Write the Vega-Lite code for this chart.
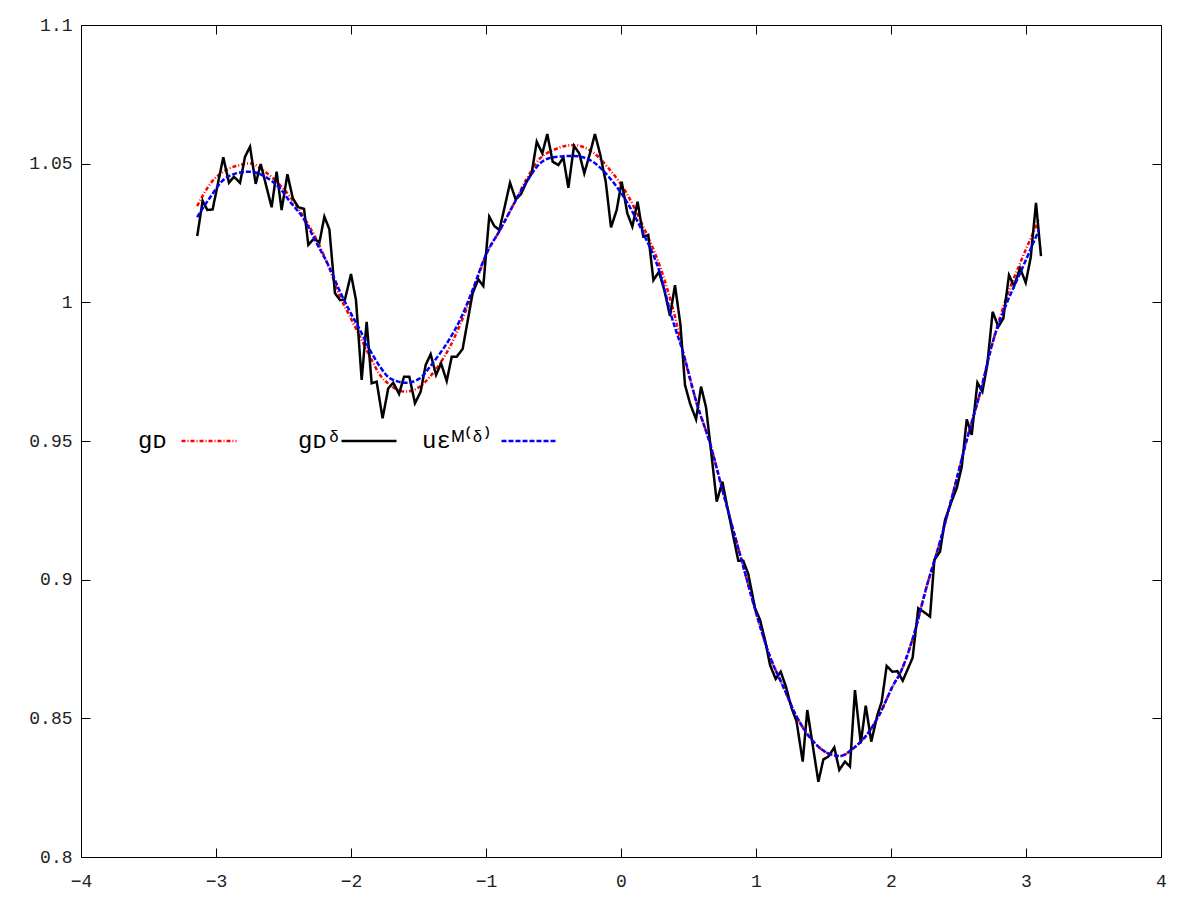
{
  "$schema": "https://vega.github.io/schema/vega-lite/v6.json",
  "width": 1080,
  "height": 832,
  "autosize": {"type": "none"},
  "padding": {"left": 81, "top": 25, "right": 39, "bottom": 43},
  "background": "white",
  "config": {
    "view": {"stroke": null},
    "axis": {
      "labelFont": "Liberation Mono",
      "labelFontSize": 18,
      "labelColor": "#222",
      "domainColor": "#000",
      "domainWidth": 1,
      "tickColor": "#000",
      "tickWidth": 1,
      "tickSize": -9,
      "grid": false,
      "title": null,
      "labelOverlap": false,
      "labelFlush": false,
      "labelBound": false
    },
    "legend": {
      "orient": "none",
      "legendX": 99,
      "legendY": 387,
      "direction": "horizontal",
      "padding": 0,
      "offset": 0,
      "symbolType": "stroke",
      "symbolSize": 3025,
      "symbolStrokeWidth": 2.5,
      "labelFont": "Liberation Mono",
      "labelFontSize": 24,
      "labelColor": "#000",
      "labelAlign": "left",
      "labelOffset": -136,
      "columnPadding": 20,
      "labelLimit": 300
    }
  },
  "data": {
    "values": [
      {"s": "⠀⠀gᴅ", "x": -3.14, "y": 1.0347},
      {"s": "⠀⠀gᴅ", "x": -3.04, "y": 1.0429},
      {"s": "⠀⠀gᴅ", "x": -2.946, "y": 1.0471},
      {"s": "⠀⠀gᴅ", "x": -2.822, "y": 1.0495},
      {"s": "⠀⠀gᴅ", "x": -2.748, "y": 1.0501},
      {"s": "⠀⠀gᴅ", "x": -2.637, "y": 1.0471},
      {"s": "⠀⠀gᴅ", "x": -2.526, "y": 1.0423},
      {"s": "⠀⠀gᴅ", "x": -2.452, "y": 1.0381},
      {"s": "⠀⠀gᴅ", "x": -2.353, "y": 1.0309},
      {"s": "⠀⠀gᴅ", "x": -2.254, "y": 1.0225},
      {"s": "⠀⠀gᴅ", "x": -2.156, "y": 1.0117},
      {"s": "⠀⠀gᴅ", "x": -2.081, "y": 1.002},
      {"s": "⠀⠀gᴅ", "x": -2.007, "y": 0.9948},
      {"s": "⠀⠀gᴅ", "x": -1.933, "y": 0.9876},
      {"s": "⠀⠀gᴅ", "x": -1.859, "y": 0.9804},
      {"s": "⠀⠀gᴅ", "x": -1.785, "y": 0.9738},
      {"s": "⠀⠀gᴅ", "x": -1.711, "y": 0.9702},
      {"s": "⠀⠀gᴅ", "x": -1.6, "y": 0.9678},
      {"s": "⠀⠀gᴅ", "x": -1.489, "y": 0.9696},
      {"s": "⠀⠀gᴅ", "x": -1.415, "y": 0.9732},
      {"s": "⠀⠀gᴅ", "x": -1.341, "y": 0.978},
      {"s": "⠀⠀gᴅ", "x": -1.267, "y": 0.984},
      {"s": "⠀⠀gᴅ", "x": -1.193, "y": 0.9918},
      {"s": "⠀⠀gᴅ", "x": -1.119, "y": 1.0008},
      {"s": "⠀⠀gᴅ", "x": -0.995, "y": 1.0177},
      {"s": "⠀⠀gᴅ", "x": -0.896, "y": 1.0261},
      {"s": "⠀⠀gᴅ", "x": -0.798, "y": 1.0351},
      {"s": "⠀⠀gᴅ", "x": -0.699, "y": 1.0445},
      {"s": "⠀⠀gᴅ", "x": -0.6, "y": 1.0519},
      {"s": "⠀⠀gᴅ", "x": -0.501, "y": 1.0549},
      {"s": "⠀⠀gᴅ", "x": -0.353, "y": 1.0567},
      {"s": "⠀⠀gᴅ", "x": -0.205, "y": 1.054},
      {"s": "⠀⠀gᴅ", "x": -0.081, "y": 1.0477},
      {"s": "⠀⠀gᴅ", "x": 0.042, "y": 1.0393},
      {"s": "⠀⠀gᴅ", "x": 0.165, "y": 1.0273},
      {"s": "⠀⠀gᴅ", "x": 0.289, "y": 1.0129},
      {"s": "⠀⠀gᴅ", "x": 0.4, "y": 0.9948},
      {"s": "⠀⠀gᴅ", "x": 0.462, "y": 0.9816},
      {"s": "⠀⠀gᴅ", "x": 0.561, "y": 0.9636},
      {"s": "⠀⠀gᴅ", "x": 0.659, "y": 0.9492},
      {"s": "⠀⠀gᴅ", "x": 0.758, "y": 0.9311},
      {"s": "⠀⠀gᴅ", "x": 0.906, "y": 0.9047},
      {"s": "⠀⠀gᴅ", "x": 1.005, "y": 0.8873},
      {"s": "⠀⠀gᴅ", "x": 1.104, "y": 0.8722},
      {"s": "⠀⠀gᴅ", "x": 1.202, "y": 0.8614},
      {"s": "⠀⠀gᴅ", "x": 1.301, "y": 0.8506},
      {"s": "⠀⠀gᴅ", "x": 1.425, "y": 0.8416},
      {"s": "⠀⠀gᴅ", "x": 1.524, "y": 0.8376},
      {"s": "⠀⠀gᴅ", "x": 1.622, "y": 0.8364},
      {"s": "⠀⠀gᴅ", "x": 1.721, "y": 0.8392},
      {"s": "⠀⠀gᴅ", "x": 1.82, "y": 0.844},
      {"s": "⠀⠀gᴅ", "x": 1.919, "y": 0.8518},
      {"s": "⠀⠀gᴅ", "x": 2.017, "y": 0.862},
      {"s": "⠀⠀gᴅ", "x": 2.067, "y": 0.8662},
      {"s": "⠀⠀gᴅ", "x": 2.165, "y": 0.8794},
      {"s": "⠀⠀gᴅ", "x": 2.264, "y": 0.8975},
      {"s": "⠀⠀gᴅ", "x": 2.363, "y": 0.9137},
      {"s": "⠀⠀gᴅ", "x": 2.462, "y": 0.9317},
      {"s": "⠀⠀gᴅ", "x": 2.561, "y": 0.9504},
      {"s": "⠀⠀gᴅ", "x": 2.659, "y": 0.9672},
      {"s": "⠀⠀gᴅ", "x": 2.758, "y": 0.9864},
      {"s": "⠀⠀gᴅ", "x": 2.857, "y": 1.002},
      {"s": "⠀⠀gᴅ", "x": 2.956, "y": 1.0141},
      {"s": "⠀⠀gᴅ", "x": 3.096, "y": 1.0297},

      {"s": "⠀⠀gᴅᵟ", "x": -3.139, "y": 1.0239},
      {"s": "⠀⠀gᴅᵟ", "x": -3.099, "y": 1.0366},
      {"s": "⠀⠀gᴅᵟ", "x": -3.064, "y": 1.0333},
      {"s": "⠀⠀gᴅᵟ", "x": -3.025, "y": 1.0335},
      {"s": "⠀⠀gᴅᵟ", "x": -2.946, "y": 1.0523},
      {"s": "⠀⠀gᴅᵟ", "x": -2.904, "y": 1.0431},
      {"s": "⠀⠀gᴅᵟ", "x": -2.867, "y": 1.0453},
      {"s": "⠀⠀gᴅᵟ", "x": -2.822, "y": 1.0431},
      {"s": "⠀⠀gᴅᵟ", "x": -2.785, "y": 1.0525},
      {"s": "⠀⠀gᴅᵟ", "x": -2.748, "y": 1.0561},
      {"s": "⠀⠀gᴅᵟ", "x": -2.706, "y": 1.0427},
      {"s": "⠀⠀gᴅᵟ", "x": -2.669, "y": 1.0499},
      {"s": "⠀⠀gᴅᵟ", "x": -2.588, "y": 1.0343},
      {"s": "⠀⠀gᴅᵟ", "x": -2.551, "y": 1.0471},
      {"s": "⠀⠀gᴅᵟ", "x": -2.514, "y": 1.0333},
      {"s": "⠀⠀gᴅᵟ", "x": -2.471, "y": 1.0462},
      {"s": "⠀⠀gᴅᵟ", "x": -2.431, "y": 1.0375},
      {"s": "⠀⠀gᴅᵟ", "x": -2.39, "y": 1.0343},
      {"s": "⠀⠀gᴅᵟ", "x": -2.348, "y": 1.0337},
      {"s": "⠀⠀gᴅᵟ", "x": -2.316, "y": 1.0207},
      {"s": "⠀⠀gᴅᵟ", "x": -2.274, "y": 1.023},
      {"s": "⠀⠀gᴅᵟ", "x": -2.234, "y": 1.0216},
      {"s": "⠀⠀gᴅᵟ", "x": -2.197, "y": 1.0309},
      {"s": "⠀⠀gᴅᵟ", "x": -2.16, "y": 1.0263},
      {"s": "⠀⠀gᴅᵟ", "x": -2.119, "y": 1.0033},
      {"s": "⠀⠀gᴅᵟ", "x": -2.081, "y": 1.0008},
      {"s": "⠀⠀gᴅᵟ", "x": -2.045, "y": 1.001},
      {"s": "⠀⠀gᴅᵟ", "x": -2.0, "y": 1.0102},
      {"s": "⠀⠀gᴅᵟ", "x": -1.963, "y": 1.0008},
      {"s": "⠀⠀gᴅᵟ", "x": -1.921, "y": 0.972},
      {"s": "⠀⠀gᴅᵟ", "x": -1.884, "y": 0.993},
      {"s": "⠀⠀gᴅᵟ", "x": -1.847, "y": 0.9708},
      {"s": "⠀⠀gᴅᵟ", "x": -1.81, "y": 0.9714},
      {"s": "⠀⠀gᴅᵟ", "x": -1.766, "y": 0.9582},
      {"s": "⠀⠀gᴅᵟ", "x": -1.724, "y": 0.969},
      {"s": "⠀⠀gᴅᵟ", "x": -1.687, "y": 0.971},
      {"s": "⠀⠀gᴅᵟ", "x": -1.644, "y": 0.967},
      {"s": "⠀⠀gᴅᵟ", "x": -1.607, "y": 0.9732},
      {"s": "⠀⠀gᴅᵟ", "x": -1.568, "y": 0.9732},
      {"s": "⠀⠀gᴅᵟ", "x": -1.526, "y": 0.9636},
      {"s": "⠀⠀gᴅᵟ", "x": -1.484, "y": 0.9678},
      {"s": "⠀⠀gᴅᵟ", "x": -1.447, "y": 0.9774},
      {"s": "⠀⠀gᴅᵟ", "x": -1.41, "y": 0.9813},
      {"s": "⠀⠀gᴅᵟ", "x": -1.37, "y": 0.9738},
      {"s": "⠀⠀gᴅᵟ", "x": -1.333, "y": 0.978},
      {"s": "⠀⠀gᴅᵟ", "x": -1.291, "y": 0.9716},
      {"s": "⠀⠀gᴅᵟ", "x": -1.254, "y": 0.9804},
      {"s": "⠀⠀gᴅᵟ", "x": -1.217, "y": 0.9804},
      {"s": "⠀⠀gᴅᵟ", "x": -1.173, "y": 0.9832},
      {"s": "⠀⠀gᴅᵟ", "x": -1.099, "y": 1.0033},
      {"s": "⠀⠀gᴅᵟ", "x": -1.057, "y": 1.0083},
      {"s": "⠀⠀gᴅᵟ", "x": -1.02, "y": 1.0059},
      {"s": "⠀⠀gᴅᵟ", "x": -0.976, "y": 1.0309},
      {"s": "⠀⠀gᴅᵟ", "x": -0.938, "y": 1.0275},
      {"s": "⠀⠀gᴅᵟ", "x": -0.901, "y": 1.0261},
      {"s": "⠀⠀gᴅᵟ", "x": -0.864, "y": 1.0339},
      {"s": "⠀⠀gᴅᵟ", "x": -0.822, "y": 1.0431},
      {"s": "⠀⠀gᴅᵟ", "x": -0.78, "y": 1.0371},
      {"s": "⠀⠀gᴅᵟ", "x": -0.741, "y": 1.039},
      {"s": "⠀⠀gᴅᵟ", "x": -0.699, "y": 1.0435},
      {"s": "⠀⠀gᴅᵟ", "x": -0.662, "y": 1.0465},
      {"s": "⠀⠀gᴅᵟ", "x": -0.624, "y": 1.0579},
      {"s": "⠀⠀gᴅᵟ", "x": -0.583, "y": 1.0537},
      {"s": "⠀⠀gᴅᵟ", "x": -0.546, "y": 1.0607},
      {"s": "⠀⠀gᴅᵟ", "x": -0.506, "y": 1.0507},
      {"s": "⠀⠀gᴅᵟ", "x": -0.464, "y": 1.0495},
      {"s": "⠀⠀gᴅᵟ", "x": -0.427, "y": 1.0522},
      {"s": "⠀⠀gᴅᵟ", "x": -0.39, "y": 1.0413},
      {"s": "⠀⠀gᴅᵟ", "x": -0.348, "y": 1.0564},
      {"s": "⠀⠀gᴅᵟ", "x": -0.309, "y": 1.0537},
      {"s": "⠀⠀gᴅᵟ", "x": -0.272, "y": 1.0465},
      {"s": "⠀⠀gᴅᵟ", "x": -0.23, "y": 1.0537},
      {"s": "⠀⠀gᴅᵟ", "x": -0.193, "y": 1.0607},
      {"s": "⠀⠀gᴅᵟ", "x": -0.156, "y": 1.0537},
      {"s": "⠀⠀gᴅᵟ", "x": -0.113, "y": 1.0435},
      {"s": "⠀⠀gᴅᵟ", "x": -0.074, "y": 1.027},
      {"s": "⠀⠀gᴅᵟ", "x": -0.032, "y": 1.0333},
      {"s": "⠀⠀gᴅᵟ", "x": 0.005, "y": 1.0435},
      {"s": "⠀⠀gᴅᵟ", "x": 0.047, "y": 1.0321},
      {"s": "⠀⠀gᴅᵟ", "x": 0.084, "y": 1.0273},
      {"s": "⠀⠀gᴅᵟ", "x": 0.123, "y": 1.0363},
      {"s": "⠀⠀gᴅᵟ", "x": 0.165, "y": 1.0237},
      {"s": "⠀⠀gᴅᵟ", "x": 0.202, "y": 1.0243},
      {"s": "⠀⠀gᴅᵟ", "x": 0.24, "y": 1.008},
      {"s": "⠀⠀gᴅᵟ", "x": 0.281, "y": 1.011},
      {"s": "⠀⠀gᴅᵟ", "x": 0.321, "y": 1.0044},
      {"s": "⠀⠀gᴅᵟ", "x": 0.363, "y": 0.9951},
      {"s": "⠀⠀gᴅᵟ", "x": 0.4, "y": 1.0062},
      {"s": "⠀⠀gᴅᵟ", "x": 0.44, "y": 0.992},
      {"s": "⠀⠀gᴅᵟ", "x": 0.474, "y": 0.9702},
      {"s": "⠀⠀gᴅᵟ", "x": 0.511, "y": 0.9636},
      {"s": "⠀⠀gᴅᵟ", "x": 0.556, "y": 0.9578},
      {"s": "⠀⠀gᴅᵟ", "x": 0.593, "y": 0.9696},
      {"s": "⠀⠀gᴅᵟ", "x": 0.63, "y": 0.9621},
      {"s": "⠀⠀gᴅᵟ", "x": 0.672, "y": 0.9443},
      {"s": "⠀⠀gᴅᵟ", "x": 0.709, "y": 0.9281},
      {"s": "⠀⠀gᴅᵟ", "x": 0.751, "y": 0.9353},
      {"s": "⠀⠀gᴅᵟ", "x": 0.787, "y": 0.9263},
      {"s": "⠀⠀gᴅᵟ", "x": 0.869, "y": 0.9068},
      {"s": "⠀⠀gᴅᵟ", "x": 0.906, "y": 0.9068},
      {"s": "⠀⠀gᴅᵟ", "x": 0.943, "y": 0.902},
      {"s": "⠀⠀gᴅᵟ", "x": 0.993, "y": 0.8897},
      {"s": "⠀⠀gᴅᵟ", "x": 1.03, "y": 0.8855},
      {"s": "⠀⠀gᴅᵟ", "x": 1.067, "y": 0.8782},
      {"s": "⠀⠀gᴅᵟ", "x": 1.104, "y": 0.8692},
      {"s": "⠀⠀gᴅᵟ", "x": 1.146, "y": 0.8642},
      {"s": "⠀⠀gᴅᵟ", "x": 1.183, "y": 0.8668},
      {"s": "⠀⠀gᴅᵟ", "x": 1.222, "y": 0.8614},
      {"s": "⠀⠀gᴅᵟ", "x": 1.264, "y": 0.8536},
      {"s": "⠀⠀gᴅᵟ", "x": 1.3, "y": 0.849},
      {"s": "⠀⠀gᴅᵟ", "x": 1.346, "y": 0.8344},
      {"s": "⠀⠀gᴅᵟ", "x": 1.38, "y": 0.853},
      {"s": "⠀⠀gᴅᵟ", "x": 1.462, "y": 0.8271},
      {"s": "⠀⠀gᴅᵟ", "x": 1.499, "y": 0.8352},
      {"s": "⠀⠀gᴅᵟ", "x": 1.536, "y": 0.8362},
      {"s": "⠀⠀gᴅᵟ", "x": 1.58, "y": 0.8395},
      {"s": "⠀⠀gᴅᵟ", "x": 1.617, "y": 0.8314},
      {"s": "⠀⠀gᴅᵟ", "x": 1.659, "y": 0.8344},
      {"s": "⠀⠀gᴅᵟ", "x": 1.696, "y": 0.8326},
      {"s": "⠀⠀gᴅᵟ", "x": 1.733, "y": 0.8602},
      {"s": "⠀⠀gᴅᵟ", "x": 1.776, "y": 0.841},
      {"s": "⠀⠀gᴅᵟ", "x": 1.813, "y": 0.8546},
      {"s": "⠀⠀gᴅᵟ", "x": 1.854, "y": 0.8416},
      {"s": "⠀⠀gᴅᵟ", "x": 1.899, "y": 0.8512},
      {"s": "⠀⠀gᴅᵟ", "x": 1.931, "y": 0.856},
      {"s": "⠀⠀gᴅᵟ", "x": 1.968, "y": 0.8689},
      {"s": "⠀⠀gᴅᵟ", "x": 2.01, "y": 0.8668},
      {"s": "⠀⠀gᴅᵟ", "x": 2.047, "y": 0.867},
      {"s": "⠀⠀gᴅᵟ", "x": 2.087, "y": 0.8636},
      {"s": "⠀⠀gᴅᵟ", "x": 2.16, "y": 0.8718},
      {"s": "⠀⠀gᴅᵟ", "x": 2.202, "y": 0.8897},
      {"s": "⠀⠀gᴅᵟ", "x": 2.239, "y": 0.8885},
      {"s": "⠀⠀gᴅᵟ", "x": 2.289, "y": 0.8867},
      {"s": "⠀⠀gᴅᵟ", "x": 2.321, "y": 0.9071},
      {"s": "⠀⠀gᴅᵟ", "x": 2.363, "y": 0.9101},
      {"s": "⠀⠀gᴅᵟ", "x": 2.4, "y": 0.9215},
      {"s": "⠀⠀gᴅᵟ", "x": 2.45, "y": 0.9284},
      {"s": "⠀⠀gᴅᵟ", "x": 2.487, "y": 0.933},
      {"s": "⠀⠀gᴅᵟ", "x": 2.524, "y": 0.9407},
      {"s": "⠀⠀gᴅᵟ", "x": 2.561, "y": 0.9578},
      {"s": "⠀⠀gᴅᵟ", "x": 2.598, "y": 0.9522},
      {"s": "⠀⠀gᴅᵟ", "x": 2.64, "y": 0.971},
      {"s": "⠀⠀gᴅᵟ", "x": 2.677, "y": 0.9678},
      {"s": "⠀⠀gᴅᵟ", "x": 2.713, "y": 0.9774},
      {"s": "⠀⠀gᴅᵟ", "x": 2.753, "y": 0.9966},
      {"s": "⠀⠀gᴅᵟ", "x": 2.795, "y": 0.9912},
      {"s": "⠀⠀gᴅᵟ", "x": 2.832, "y": 0.9942},
      {"s": "⠀⠀gᴅᵟ", "x": 2.874, "y": 1.0098},
      {"s": "⠀⠀gᴅᵟ", "x": 2.911, "y": 1.0059},
      {"s": "⠀⠀gᴅᵟ", "x": 2.956, "y": 1.0123},
      {"s": "⠀⠀gᴅᵟ", "x": 2.998, "y": 1.0071},
      {"s": "⠀⠀gᴅᵟ", "x": 3.035, "y": 1.0162},
      {"s": "⠀⠀gᴅᵟ", "x": 3.074, "y": 1.0359},
      {"s": "⠀⠀gᴅᵟ", "x": 3.111, "y": 1.0167},

      {"s": "uεᴹ⁽ᵟ⁾", "x": -3.14, "y": 1.0307},
      {"s": "uεᴹ⁽ᵟ⁾", "x": -3.04, "y": 1.0381},
      {"s": "uεᴹ⁽ᵟ⁾", "x": -2.946, "y": 1.0441},
      {"s": "uεᴹ⁽ᵟ⁾", "x": -2.822, "y": 1.0468},
      {"s": "uεᴹ⁽ᵟ⁾", "x": -2.748, "y": 1.0471},
      {"s": "uεᴹ⁽ᵟ⁾", "x": -2.637, "y": 1.0453},
      {"s": "uεᴹ⁽ᵟ⁾", "x": -2.526, "y": 1.0411},
      {"s": "uεᴹ⁽ᵟ⁾", "x": -2.452, "y": 1.0363},
      {"s": "uεᴹ⁽ᵟ⁾", "x": -2.353, "y": 1.0303},
      {"s": "uεᴹ⁽ᵟ⁾", "x": -2.254, "y": 1.0213},
      {"s": "uεᴹ⁽ᵟ⁾", "x": -2.156, "y": 1.0122},
      {"s": "uεᴹ⁽ᵟ⁾", "x": -2.081, "y": 1.0038},
      {"s": "uεᴹ⁽ᵟ⁾", "x": -2.007, "y": 0.9966},
      {"s": "uεᴹ⁽ᵟ⁾", "x": -1.933, "y": 0.99},
      {"s": "uεᴹ⁽ᵟ⁾", "x": -1.859, "y": 0.9828},
      {"s": "uεᴹ⁽ᵟ⁾", "x": -1.785, "y": 0.9768},
      {"s": "uεᴹ⁽ᵟ⁾", "x": -1.711, "y": 0.9726},
      {"s": "uεᴹ⁽ᵟ⁾", "x": -1.59, "y": 0.971},
      {"s": "uεᴹ⁽ᵟ⁾", "x": -1.489, "y": 0.9726},
      {"s": "uεᴹ⁽ᵟ⁾", "x": -1.415, "y": 0.9768},
      {"s": "uεᴹ⁽ᵟ⁾", "x": -1.341, "y": 0.9816},
      {"s": "uεᴹ⁽ᵟ⁾", "x": -1.267, "y": 0.987},
      {"s": "uεᴹ⁽ᵟ⁾", "x": -1.193, "y": 0.9936},
      {"s": "uεᴹ⁽ᵟ⁾", "x": -1.119, "y": 1.002},
      {"s": "uεᴹ⁽ᵟ⁾", "x": -0.995, "y": 1.0177},
      {"s": "uεᴹ⁽ᵟ⁾", "x": -0.896, "y": 1.0261},
      {"s": "uεᴹ⁽ᵟ⁾", "x": -0.798, "y": 1.0351},
      {"s": "uεᴹ⁽ᵟ⁾", "x": -0.699, "y": 1.0435},
      {"s": "uεᴹ⁽ᵟ⁾", "x": -0.6, "y": 1.0501},
      {"s": "uεᴹ⁽ᵟ⁾", "x": -0.501, "y": 1.0523},
      {"s": "uεᴹ⁽ᵟ⁾", "x": -0.353, "y": 1.0528},
      {"s": "uεᴹ⁽ᵟ⁾", "x": -0.23, "y": 1.0513},
      {"s": "uεᴹ⁽ᵟ⁾", "x": -0.081, "y": 1.0447},
      {"s": "uεᴹ⁽ᵟ⁾", "x": 0.042, "y": 1.0363},
      {"s": "uεᴹ⁽ᵟ⁾", "x": 0.165, "y": 1.0249},
      {"s": "uεᴹ⁽ᵟ⁾", "x": 0.289, "y": 1.0105},
      {"s": "uεᴹ⁽ᵟ⁾", "x": 0.375, "y": 0.9948},
      {"s": "uεᴹ⁽ᵟ⁾", "x": 0.462, "y": 0.9816},
      {"s": "uεᴹ⁽ᵟ⁾", "x": 0.561, "y": 0.9636},
      {"s": "uεᴹ⁽ᵟ⁾", "x": 0.659, "y": 0.9492},
      {"s": "uεᴹ⁽ᵟ⁾", "x": 0.758, "y": 0.9311},
      {"s": "uεᴹ⁽ᵟ⁾", "x": 0.906, "y": 0.9047},
      {"s": "uεᴹ⁽ᵟ⁾", "x": 1.005, "y": 0.8873},
      {"s": "uεᴹ⁽ᵟ⁾", "x": 1.104, "y": 0.8722},
      {"s": "uεᴹ⁽ᵟ⁾", "x": 1.202, "y": 0.8614},
      {"s": "uεᴹ⁽ᵟ⁾", "x": 1.301, "y": 0.8506},
      {"s": "uεᴹ⁽ᵟ⁾", "x": 1.425, "y": 0.8416},
      {"s": "uεᴹ⁽ᵟ⁾", "x": 1.524, "y": 0.8376},
      {"s": "uεᴹ⁽ᵟ⁾", "x": 1.622, "y": 0.8364},
      {"s": "uεᴹ⁽ᵟ⁾", "x": 1.721, "y": 0.8392},
      {"s": "uεᴹ⁽ᵟ⁾", "x": 1.82, "y": 0.844},
      {"s": "uεᴹ⁽ᵟ⁾", "x": 1.919, "y": 0.8518},
      {"s": "uεᴹ⁽ᵟ⁾", "x": 2.017, "y": 0.862},
      {"s": "uεᴹ⁽ᵟ⁾", "x": 2.067, "y": 0.8662},
      {"s": "uεᴹ⁽ᵟ⁾", "x": 2.165, "y": 0.8794},
      {"s": "uεᴹ⁽ᵟ⁾", "x": 2.264, "y": 0.8975},
      {"s": "uεᴹ⁽ᵟ⁾", "x": 2.363, "y": 0.9137},
      {"s": "uεᴹ⁽ᵟ⁾", "x": 2.462, "y": 0.9317},
      {"s": "uεᴹ⁽ᵟ⁾", "x": 2.561, "y": 0.9504},
      {"s": "uεᴹ⁽ᵟ⁾", "x": 2.659, "y": 0.9672},
      {"s": "uεᴹ⁽ᵟ⁾", "x": 2.758, "y": 0.9864},
      {"s": "uεᴹ⁽ᵟ⁾", "x": 2.857, "y": 0.9996},
      {"s": "uεᴹ⁽ᵟ⁾", "x": 2.956, "y": 1.0105},
      {"s": "uεᴹ⁽ᵟ⁾", "x": 3.096, "y": 1.0261}
    ]
  },
  "encoding": {
    "color": {
      "field": "s",
      "type": "nominal",
      "title": null,
      "scale": {"domain": ["⠀⠀gᴅ", "⠀⠀gᴅᵟ", "uεᴹ⁽ᵟ⁾"], "range": ["#ff0000", "#000000", "#0000ff"]}
    },
    "strokeDash": {
      "field": "s",
      "type": "nominal",
      "title": null,
      "scale": {"domain": ["⠀⠀gᴅ", "⠀⠀gᴅᵟ", "uεᴹ⁽ᵟ⁾"], "range": [[4, 2, 1, 2], [1, 0], [5, 2]]}
    }
  },
  "layer": [
    {
      "transform": [{"filter": {"field": "s", "equal": "⠀⠀gᴅ"}}],
      "mark": {"type": "line", "strokeWidth": 2.5, "interpolate": "monotone"},
      "encoding": {
        "x": {"field": "x", "type": "quantitative", "scale": {"domain": [-4, 4], "nice": false, "zero": false},
              "axis": {"orient": "bottom", "values": [-4, -3, -2, -1, 0, 1, 2, 3, 4], "format": "~g", "labelPadding": 24}},
        "y": {"field": "y", "type": "quantitative", "scale": {"domain": [0.8, 1.1], "nice": false, "zero": false},
              "axis": {"orient": "left", "values": [0.8, 0.85, 0.9, 0.95, 1, 1.05, 1.1], "format": "~g", "labelPadding": 18}}
      }
    },
    {
      "transform": [{"filter": {"field": "s", "equal": "⠀⠀gᴅᵟ"}}],
      "mark": {"type": "line", "strokeWidth": 2.5},
      "encoding": {
        "x": {"field": "x", "type": "quantitative", "scale": {"domain": [-4, 4], "nice": false, "zero": false},
              "axis": {"orient": "top", "values": [-4, -3, -2, -1, 0, 1, 2, 3, 4], "labels": false}},
        "y": {"field": "y", "type": "quantitative", "scale": {"domain": [0.8, 1.1], "nice": false, "zero": false},
              "axis": {"orient": "right", "values": [0.8, 0.85, 0.9, 0.95, 1, 1.05, 1.1], "labels": false}}
      }
    },
    {
      "transform": [{"filter": {"field": "s", "equal": "uεᴹ⁽ᵟ⁾"}}],
      "mark": {"type": "line", "strokeWidth": 2.5, "interpolate": "monotone"},
      "encoding": {
        "x": {"field": "x", "type": "quantitative", "scale": {"domain": [-4, 4], "nice": false, "zero": false}, "axis": null},
        "y": {"field": "y", "type": "quantitative", "scale": {"domain": [0.8, 1.1], "nice": false, "zero": false}, "axis": null}
      }
    }
  ],
  "resolve": {"axis": {"x": "independent", "y": "independent"}}
}
